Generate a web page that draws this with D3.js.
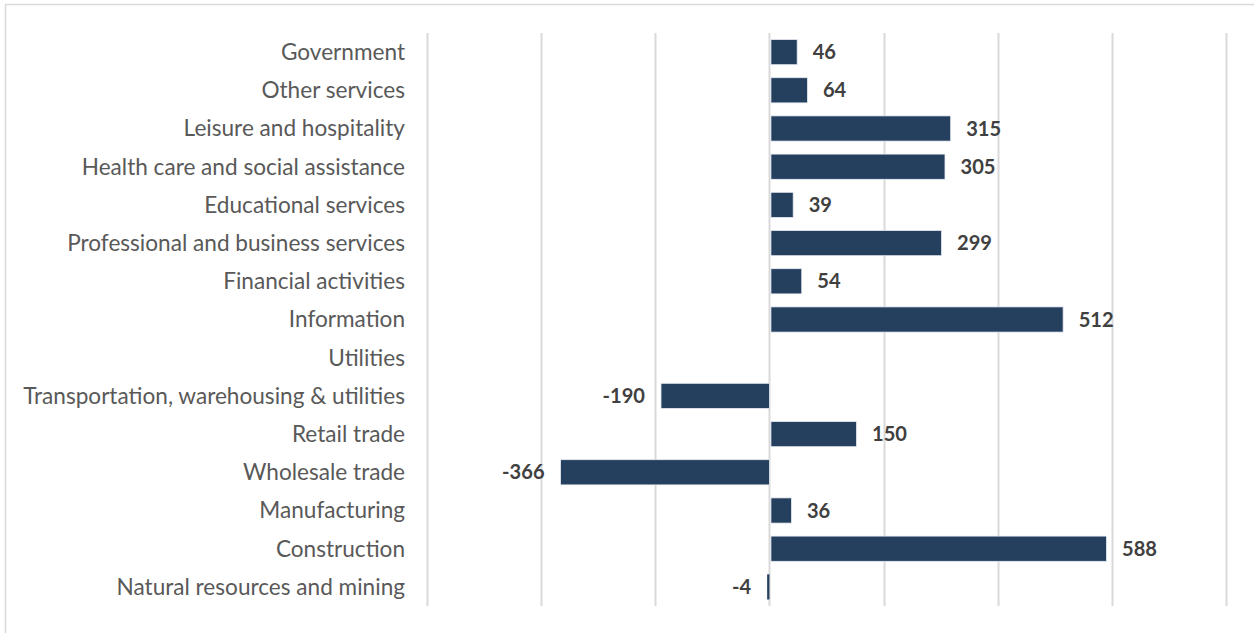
<!DOCTYPE html>
<html>
<head>
<meta charset="utf-8">
<script src="https://cdn.jsdelivr.net/npm/d3@7/dist/d3.min.js"></script>
<style>
  html, body { margin: 0; padding: 0; background: #fff; }
  svg { display: block; }
</style>
</head>
<body>
<svg id="chart" width="1254" height="633"></svg>
<script>
// Employment change by industry (thousands), top to bottom
const categories = [
  "Government",
  "Other services",
  "Leisure and hospitality",
  "Health care and social assistance",
  "Educational services",
  "Professional and business services",
  "Financial activities",
  "Information",
  "Utilities",
  "Transportation, warehousing & utilities",
  "Retail trade",
  "Wholesale trade",
  "Manufacturing",
  "Construction",
  "Natural resources and mining"
];
const values = [46, 64, 315, 305, 39, 299, 54, 512, null, -190, 150, -366, 36, 588, -4];
const gridTicks = [-600, -400, -200, 0, 200, 400, 600, 800];

const svg = d3.select("#chart");
const W = 1254, H = 633;
const margin = { top: 33, left: 427, right: 28, bottom: 27 };
const FONT = "Lato, 'Open Sans', sans-serif";

// size a font so a sample string spans the wanted width
function fitFontSize(sample, weight, targetWidth, base) {
  const t = svg.append("text").attr("font-family", FONT).attr("font-weight", weight)
    .attr("font-size", base).text(sample);
  const w = t.node().getComputedTextLength();
  t.remove();
  return base * targetWidth / w;
}
const labelSize = fitFontSize("Transportation, warehousing & utilities", "normal", 382, 20);
const valueSize = fitFontSize("588", "bold", 35, 20);

// outer frame
svg.append("rect")
  .attr("x", 5.5).attr("y", 4.5)
  .attr("width", W + 10).attr("height", H + 10)
  .attr("fill", "none").attr("stroke", "#d9d9d9").attr("stroke-width", 1.5);

const x = d3.scaleLinear().domain([-600, 800]).range([margin.left, W - margin.right]);
const y = d3.scaleBand().domain(categories)
  .range([margin.top, H - margin.bottom]).paddingInner(0.34).paddingOuter(0.17);

// vertical gridlines
svg.append("g").selectAll("line").data(gridTicks).join("line")
  .attr("x1", d => Math.round(x(d)) + 0.5).attr("x2", d => Math.round(x(d)) + 0.5)
  .attr("y1", margin.top).attr("y2", H - margin.bottom)
  .attr("stroke", "#d9d9d9").attr("stroke-width", 2);

// category axis labels
const yAxis = d3.axisLeft(y).tickSize(0).tickPadding(0);
const gy = svg.append("g").attr("transform", `translate(405,0)`).call(yAxis);
gy.select(".domain").remove();
gy.selectAll("text")
  .attr("font-family", FONT)
  .attr("font-size", labelSize)
  .attr("fill", "#595959")
  .attr("dy", "0.35em");

const rows = categories.map((c, i) => ({ c, v: values[i] })).filter(d => d.v !== null);

// bars
svg.append("g").selectAll("rect").data(rows).join("rect")
  .attr("x", d => x(Math.min(0, d.v)) + (d.v >= 0 ? 1.5 : 0))
  .attr("width", d => Math.max(1.5, Math.abs(x(d.v) - x(0))))
  .attr("y", d => y(d.c))
  .attr("height", y.bandwidth())
  .attr("fill", "#253f5f")
  .attr("stroke", d => Math.abs(d.v) > 10 ? "#e8ecf2" : "none")
  .attr("stroke-width", 0.8);

// value labels
svg.append("g").selectAll("text").data(rows).join("text")
  .attr("x", d => d.v >= 0 ? x(d.v) + 17 : x(d.v) - 16)
  .attr("y", d => y(d.c) + y.bandwidth() / 2)
  .attr("dy", "0.35em")
  .attr("text-anchor", d => d.v >= 0 ? "start" : "end")
  .attr("font-family", FONT)
  .attr("font-weight", "bold")
  .attr("font-size", valueSize)
  .attr("fill", "#404040")
  .text(d => d.v);
</script>
</body>
</html>
